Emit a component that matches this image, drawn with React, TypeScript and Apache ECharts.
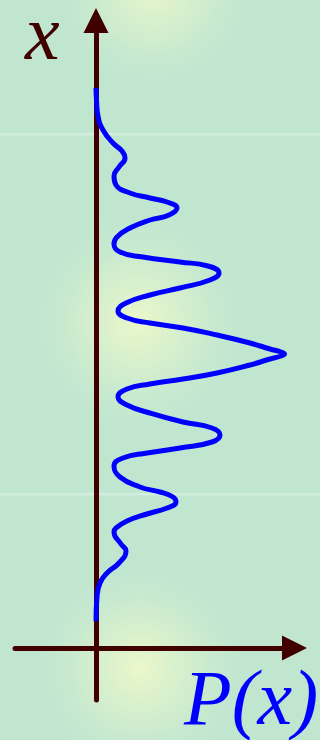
import React, { useEffect, useRef } from "react";
import * as echarts from "echarts";

// Probability curve P(x) (P in arbitrary units, x position)
const pValues = [
  0, 0.005, 0.02, 0.07, 0.17, 0.26, 0.29, 0.23, 0.18, 0.2, 0.34, 0.54, 0.71, 0.81, 0.73, 0.54, 0.34, 0.21, 0.18,
  0.24, 0.47, 0.84, 1.12, 1.23, 1.14, 0.84, 0.54, 0.3, 0.22, 0.31, 0.54, 0.87, 1.21, 1.54, 1.74, 1.85, 1.885, 1.85,
  1.74, 1.54, 1.21, 0.87, 0.54, 0.31, 0.22, 0.31, 0.54, 0.87, 1.16, 1.24, 1.16, 0.84, 0.51, 0.27, 0.18, 0.24, 0.44,
  0.64, 0.77, 0.8, 0.71, 0.51, 0.31, 0.2, 0.18, 0.25, 0.3, 0.23, 0.11, 0.04, 0.01, 0,
];
const xValues = [
  2.665, 2.545, 2.385, 2.245, 2.115, 2.035, 1.965, 1.875, 1.785, 1.695, 1.615, 1.565, 1.525, 1.465, 1.395, 1.345,
  1.265, 1.175, 1.105, 1.025, 0.975, 0.925, 0.885, 0.815, 0.745, 0.665, 0.595, 0.515, 0.435, 0.365, 0.315, 0.265,
  0.195, 0.115, 0.055, 0.025, 0.005, -0.015, -0.045, -0.105, -0.185, -0.245, -0.295, -0.345, -0.425, -0.505, -0.585,
  -0.675, -0.735, -0.805, -0.875, -0.935, -0.985, -1.035, -1.115, -1.225, -1.325, -1.375, -1.425, -1.475, -1.535,
  -1.595, -1.665, -1.735, -1.775, -1.895, -1.965, -2.085, -2.185, -2.285, -2.425, -2.665,
];
const pRange = [-0.81, 1.985];
const xRange = [-3.455, 3.34];
const axisNames = ["x", "P(x)"];

const AXIS = "#400000";
const BG = "#c0e6d0";
const SERIF = "Liberation Serif";

function glow(cx: number, cy: number, r: number, a: number) {
  return {
    type: "rect",
    z: -10,
    silent: true,
    shape: { x: cx - r, y: cy - r, width: 2 * r, height: 2 * r },
    style: {
      fill: new echarts.graphic.RadialGradient(0.5, 0.5, 0.5, [
        { offset: 0, color: `rgba(236,248,202,${a})` },
        { offset: 0.45, color: `rgba(222,242,204,${a * 0.6})` },
        { offset: 1, color: "rgba(192,230,208,0)" },
      ]),
    },
  };
}

export default function App() {
  const ref = useRef<HTMLDivElement>(null);
  useEffect(() => {
    document.body.style.margin = "0";
    const chart = echarts.init(ref.current!, null, { renderer: "svg" });
    const data = pValues.map((p, i) => [p, xValues[i]]);
    chart.setOption({
      animation: false,
      backgroundColor: BG,
      grid: { left: 15, right: 25.5, top: 20.5, bottom: 40, outerBoundsMode: "none" },
      xAxis: {
        type: "value",
        min: pRange[0],
        max: pRange[1],
        offset: -52,
        axisLine: {
          onZero: false,
          symbol: ["none", "triangle"],
          symbolSize: [25, 25],
          lineStyle: { color: AXIS, width: 5 },
        },
        axisTick: { show: false },
        axisLabel: { show: false },
        splitLine: { show: false },
      },
      yAxis: {
        type: "value",
        min: xRange[0],
        max: xRange[1],
        axisLine: {
          onZero: true,
          symbol: ["none", "triangle"],
          symbolSize: [25, 25],
          lineStyle: { color: AXIS, width: 5 },
        },
        axisTick: { show: false },
        axisLabel: { show: false },
        splitLine: { show: false },
      },
      graphic: [
        glow(155, -10, 110, 0.9),
        glow(138, 322, 120, 1),
        glow(140, 668, 115, 1),
        { type: "rect", z: -9, silent: true, shape: { x: 0, y: 133, width: 320, height: 2.5 }, style: { fill: "rgba(255,255,255,0.3)" } },
        { type: "rect", z: -9, silent: true, shape: { x: 0, y: 493, width: 320, height: 2.5 }, style: { fill: "rgba(255,255,255,0.3)" } },
        {
          type: "text",
          z: 10,
          x: 25,
          y: 32,
          style: {
            text: axisNames[0],
            fontSize: 78,
            lineHeight: 44,
            fontStyle: "italic",
            fontFamily: SERIF,
            fill: AXIS,
            verticalAlign: "middle",
            align: "left",
          },
        },
        {
          type: "text",
          z: 10,
          x: 184,
          y: 697,
          style: {
            text: axisNames[1],
            fontSize: 78,
            lineHeight: 60,
            fontStyle: "italic",
            fontFamily: SERIF,
            fill: "#0000ff",
            verticalAlign: "middle",
            align: "left",
          },
        },
      ],
      series: [
        {
          type: "line",
          data,
          smooth: 0.5,
          showSymbol: false,
          symbol: "none",
          lineStyle: { color: "#0000ff", width: 5 },
          z: 5,
        },
      ],
    });
    return () => chart.dispose();
  }, []);
  return <div ref={ref} style={{ width: 320, height: 740 }} />;
}
